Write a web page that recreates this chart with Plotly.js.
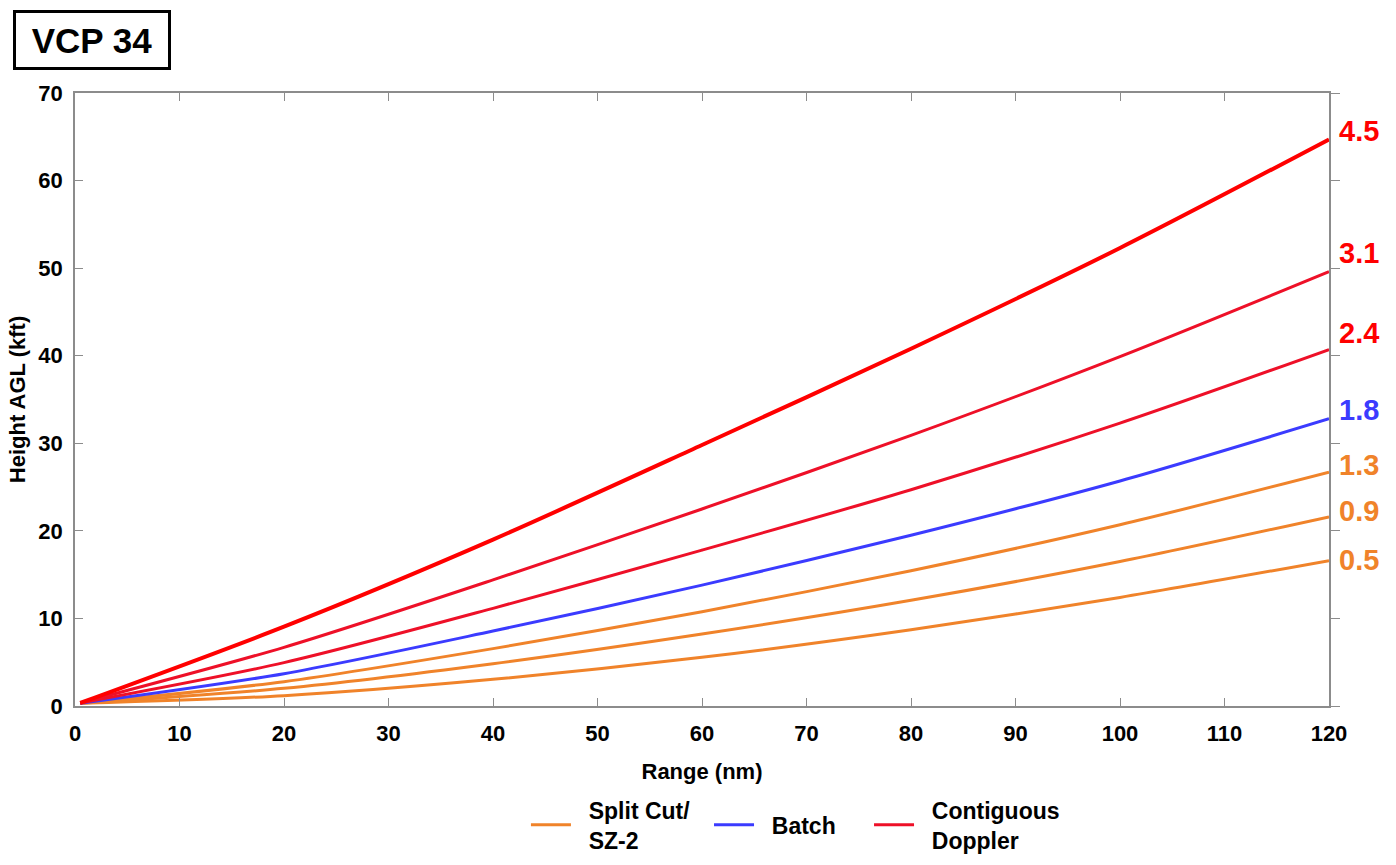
<!DOCTYPE html>
<html>
<head>
<meta charset="utf-8">
<script src="https://cdn.plot.ly/plotly-3.0.1.min.js"></script>
<style>
  body { margin: 0; background: #fff; }
  #myDiv { width: 1396px; height: 865px; }
</style>
</head>
<body>
<div id="myDiv"></div>
<script>
var range = [0.5, 20, 40, 60, 80, 100, 120];

// beam height AGL (kft) for each elevation angle
var h05 = [0.30, 1.18, 3.05, 5.56, 8.71, 12.4, 16.6];
var h09 = [0.30, 2.02, 4.83, 8.22, 12.07, 16.5, 21.6];
var h13 = [0.30, 2.78, 6.55, 10.77, 15.45, 20.7, 26.7];
var h18 = [0.30, 3.69, 8.56, 13.8, 19.5, 25.7, 32.8];
var h24 = [0.35, 4.95, 11.15, 17.8, 24.7, 32.3, 40.7];
var h31 = [0.35, 6.70, 14.4, 22.5, 30.9, 39.9, 49.6];
var h45 = [0.35, 9.06, 19.0, 29.8, 40.8, 52.3, 64.7];

var elevations = ['0.5', '0.9', '1.3', '1.8', '2.4', '3.1', '4.5'];
var heights = [h05, h09, h13, h18, h24, h31, h45];
var modes = ['split', 'split', 'split', 'batch', 'cd', 'cd', 'cd'];
var modeNames = {
  split: '&nbsp;&nbsp;Split Cut/<br>&nbsp;&nbsp;SZ-2',
  batch: '&nbsp;&nbsp;Batch',
  cd: '&nbsp;&nbsp;Contiguous<br>&nbsp;&nbsp;Doppler'
};

// styling
var modeColors = {split: '#F0832A', batch: '#3B3BFF', cd: '#FF0000'};
var modeLegend = {split: 'legend', batch: 'legend2', cd: 'legend3'};
var lineColors = ['#F0832A', '#F0832A', '#F0832A', '#3B3BFF', '#EE1028', '#EE1028', '#FF0000'];
var lineWidths = [3, 3, 3, 3, 3, 3, 4];
var labelShift = [1, 6, 7, 9, 17, 19, 8];

var font = 'Liberation Sans, Arial, Helvetica, sans-serif';
var gray = '#8c8c8c';

var data = [];
var seen = {};
for (var i = 0; i < elevations.length; i++) {
  var m = modes[i];
  data.push({
    type: 'scatter',
    mode: 'lines',
    x: range,
    y: heights[i],
    name: modeNames[m],
    legend: modeLegend[m],
    legendgroup: m,
    showlegend: !seen[m],
    line: {color: lineColors[i], width: lineWidths[i], shape: 'spline', smoothing: 0.8},
    hoverinfo: 'x+y'
  });
  seen[m] = true;
}

var annotations = elevations.map(function (e, i) {
  var ys = heights[i];
  return {
    x: range[range.length - 1],
    y: ys[ys.length - 1],
    xref: 'x', yref: 'y',
    text: e,
    showarrow: false,
    xanchor: 'left',
    xshift: 8,
    yshift: labelShift[i],
    font: {family: font, size: 29, weight: 'bold', color: modeColors[modes[i]]}
  };
});

annotations.push({
  xref: 'paper', yref: 'paper',
  x: -0.0494, y: 1.1354,
  xanchor: 'left', yanchor: 'top',
  text: 'VCP 34',
  showarrow: false,
  width: 150, height: 52,
  borderpad: 1,
  bordercolor: '#000',
  borderwidth: 3,
  bgcolor: '#fff',
  font: {family: font, size: 35, weight: 'bold', color: '#000'}
});

var tickFont = {family: font, size: 22, weight: 'bold', color: '#000'};
var titleFont = {family: font, size: 22, weight: 'bold', color: '#000'};
var legendFont = {family: font, size: 23, weight: 'bold', color: '#000'};

function legendAt(x) {
  return {x: x, xanchor: 'left', y: -0.194, yanchor: 'middle', font: legendFont, itemwidth: 40};
}

var layout = {
  width: 1396,
  height: 865,
  margin: {t: 93, b: 159, l: 75, r: 67, autoexpand: false},
  paper_bgcolor: '#fff',
  plot_bgcolor: '#fff',
  font: {family: font},
  showlegend: true,
  legend: legendAt(0.3596),
  legend2: legendAt(0.5056),
  legend3: legendAt(0.6332),
  xaxis: {
    range: [0, 120],
    dtick: 10,
    showgrid: false,
    zeroline: false,
    showline: true,
    linecolor: gray,
    linewidth: 1.5,
    mirror: 'ticks',
    ticks: 'inside',
    ticklen: 8,
    tickcolor: gray,
    tickwidth: 1.2,
    tickfont: tickFont,
    ticklabelstandoff: 7,
    title: {text: 'Range (nm)', font: titleFont, standoff: 18}
  },
  yaxis: {
    range: [0, 70],
    dtick: 10,
    showgrid: false,
    zeroline: false,
    showline: true,
    linecolor: gray,
    linewidth: 1.5,
    ticks: 'inside',
    ticklen: 8,
    tickcolor: gray,
    tickwidth: 1.2,
    tickfont: tickFont,
    ticklabelstandoff: 6,
    title: {text: 'Height AGL (kft)', font: titleFont, standoff: 7}
  },
  yaxis2: {
    overlaying: 'y',
    side: 'right',
    range: [0, 70],
    dtick: 10,
    showgrid: false,
    zeroline: false,
    showline: true,
    linecolor: gray,
    linewidth: 1.5,
    ticks: 'outside',
    ticklen: 9,
    tickcolor: gray,
    tickwidth: 1.2,
    showticklabels: false
  },
  annotations: annotations
};

// empty helper trace so the right-hand axis gets drawn
data.push({type: 'scatter', x: [null], y: [null], yaxis: 'y2', showlegend: false, hoverinfo: 'skip'});

Plotly.newPlot('myDiv', data, layout, {displayModeBar: false});
</script>
</body>
</html>
